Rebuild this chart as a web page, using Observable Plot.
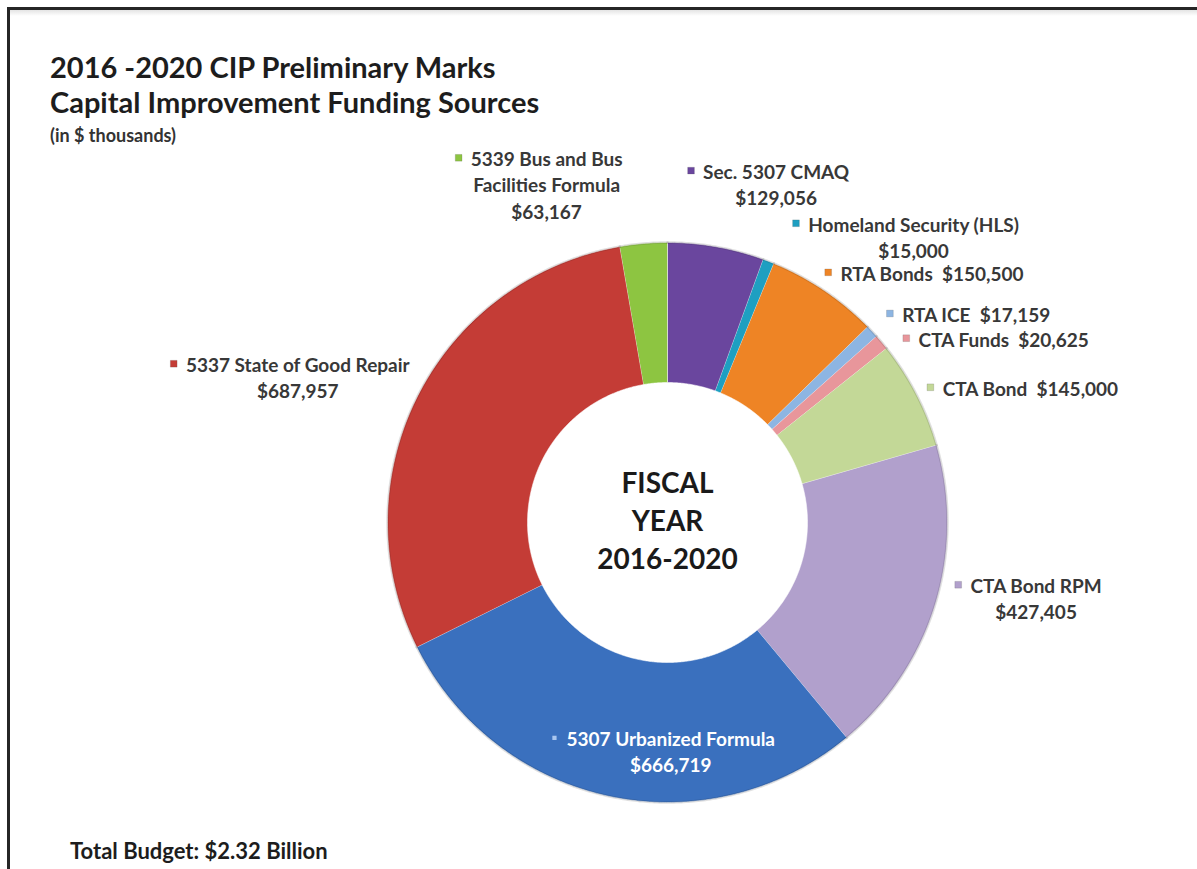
<!DOCTYPE html>
<html>
<head>
<meta charset="utf-8">
<script src="https://cdn.jsdelivr.net/npm/d3@7"></script>
<script src="https://cdn.jsdelivr.net/npm/@observablehq/plot@0.6"></script>
<style>
  body { margin: 0; background: #fff; font-family: Lato, "Open Sans", sans-serif; }
  #page { position: relative; width: 1197px; height: 869px; overflow: hidden; background: #fff; }
  #frame { position: absolute; left: 7px; top: 7px; width: 1220px; height: 900px;
           border-top: 3px solid #262626; border-left: 3px solid #262626; }
  #shade { position: absolute; left: 10px; top: 10px; width: 1200px; height: 6px;
           background: linear-gradient(#e4e4e4, #fff); }
  #title { position: absolute; left: 50px; top: 49px; font-weight: 700; font-size: 29px;
           line-height: 35px; color: #1d1d1d; white-space: nowrap; }
  #sub { position: absolute; left: 50px; top: 125px; font-weight: 700; font-size: 18px;
         line-height: 20px; color: #333; }
  #chart { position: absolute; left: 0; top: 140px; }
  #caption { position: absolute; left: 70px; top: 838px; font-weight: 700; font-size: 22px;
             line-height: 26px; color: #1d1d1d; }
</style>
</head>
<body>
<div id="page">
  <div id="frame"></div>
  <div id="shade"></div>
  <div id="title">2016 -2020 CIP Preliminary Marks<br>Capital Improvement Funding Sources</div>
  <div id="sub">(in $ thousands)</div>
  <div id="chart"></div>
  <div id="caption">Total Budget: $2.32 Billion</div>
</div>
<script>
// ---- data ----
const names = [
  "Sec. 5307 CMAQ",
  "Homeland Security (HLS)",
  "RTA Bonds",
  "RTA ICE",
  "CTA Funds",
  "CTA Bond",
  "CTA Bond RPM",
  "5307 Urbanized Formula",
  "5337 State of Good Repair",
  "5339 Bus and Bus Facilities Formula"
];
const values = [129056, 15000, 150500, 17159, 20625, 145000, 427405, 666719, 687957, 63167];
const colors = ["#6a469e", "#1e9fc1", "#ee8425", "#8db5e2", "#e8969b",
                "#c3d897", "#b1a0cc", "#3a70be", "#c43c36", "#8dc541"];
const labelNames = [
  "Sec. 5307 CMAQ",
  "Homeland Security (HLS)",
  "RTA Bonds",
  "RTA ICE",
  "CTA Funds",
  "CTA Bond",
  "CTA Bond RPM",
  "5307 Urbanized Formula",
  "5337 State of Good Repair",
  "5339 Bus and Bus\nFacilities Formula"
];
const labelSep = ["\n", "\n", "  ", "  ", "  ", "  ", "\n", "\n", "\n", "\n"];
const centerText = "FISCAL\nYEAR\n2016-2020";

// ---- layout (pixels) ----
const W = 1197, H = 700, CX = 667, CY = 382, R = 280, INNER = 0.5;
const labelNudge = [[60, -63], [145, -25], [108, -18], [104, -18], [122, -4],
                    [114, -7], [101, -7], [61, -45.5], [-120, -19], [-97, -59.5]];
const FONT = "Lato, 'Open Sans', sans-serif";
const LABEL_SIZE = 19, LINE_H = 1.38;

const data = names.map((name, i) => ({name, value: values[i], color: colors[i], i}));
const arcs = d3.pie().sort(null).value(d => d.value)(data);

// slice polygons in unit-radius coordinates
const ring = [];
const rim = [];
arcs.forEach(a => {
  const a0 = a.startAngle, a1 = a.endAngle;
  const n = Math.max(2, Math.ceil((a1 - a0) / (Math.PI / 360)));
  for (let k = 0; k <= n; k++) {
    const t = a0 + (a1 - a0) * k / n;
    ring.push({name: a.data.name, x: Math.sin(t), y: Math.cos(t)});
    rim.push({name: a.data.name, x: Math.sin(t), y: Math.cos(t)});
  }
  for (let k = n; k >= 0; k--) {
    const t = a0 + (a1 - a0) * k / n;
    ring.push({name: a.data.name, x: INNER * Math.sin(t), y: INNER * Math.cos(t)});
  }
});

// labels
const canvas = document.createElement("canvas");
const ctx = canvas.getContext("2d");
ctx.font = `700 ${LABEL_SIZE}px ${FONT}`;
const fmt = d3.format(",");
const labels = arcs.map(a => {
  const i = a.data.i;
  const mid = (a.startAngle + a.endAngle) / 2;
  const [nx, ny] = labelNudge[i];
  const x = Math.sin(mid) + nx / R;
  const y = Math.cos(mid) - ny / R;
  const text = labelNames[i] + labelSep[i] + "$" + fmt(a.data.value);
  const lines = text.split("\n");
  const lh = LABEL_SIZE * LINE_H;
  const firstY = y + ((lines.length - 1) / 2) * lh / R;
  const w = ctx.measureText(lines[0]).width;
  const mx = x - (w / 2 + 12) / R;
  return {name: a.data.name, i, x, y, text, mx, my: firstY, white: i === 7};
});

const chart = Plot.plot({
  width: W,
  height: H,
  margin: 0,
  x: {domain: [-CX / R, (W - CX) / R], axis: null},
  y: {domain: [-(H - CY) / R, CY / R], axis: null},
  color: {domain: names, range: colors},
  style: {background: "transparent", fontFamily: FONT},
  marks: [
    Plot.line(ring, {x: "x", y: "y", z: "name", fill: "name",
                     stroke: "#ffffff", strokeOpacity: 0.55, strokeWidth: 1}),
    Plot.line(rim, {x: "x", y: "y", z: "name", stroke: "#000000", strokeOpacity: 0.12, strokeWidth: 2.5}),
    Plot.text([centerText], {x: [0], y: [0], text: d => d, dy: -4, fontSize: 28,
                             fontWeight: 700, lineHeight: 1.36, fill: "#1a1a1a"}),
    Plot.dot(labels.filter(d => !d.white), {x: "mx", y: "my", fill: "name", symbol: "square",
                                            r: 3.8, stroke: "#555", strokeOpacity: 0.4, strokeWidth: 0.5}),
    Plot.dot(labels.filter(d => d.white), {x: "mx", y: "my", fill: "#a9c6ef", symbol: "square", r: 2.4}),
    Plot.text(labels.filter(d => !d.white), {x: "x", y: "y", text: "text", fontSize: LABEL_SIZE,
                                             fontWeight: 700, lineHeight: LINE_H, fill: "#383838"}),
    Plot.text(labels.filter(d => d.white), {x: "x", y: "y", text: "text", fontSize: LABEL_SIZE,
                                            fontWeight: 700, lineHeight: LINE_H, fill: "#ffffff"})
  ]
});
document.getElementById("chart").appendChild(chart);
</script>
</body>
</html>
